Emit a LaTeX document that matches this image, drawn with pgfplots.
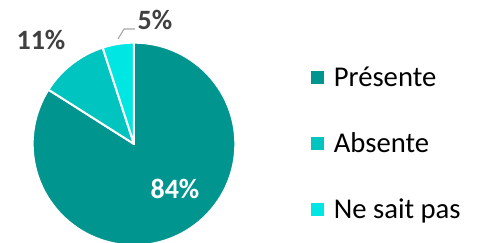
\documentclass[border=0pt]{standalone}
\usepackage{pgfplots}
\usepackage{pgfplotstable}
\pgfplotsset{compat=1.18}
\usepackage{fontspec}
\setmainfont{Carlito}
\definecolor{cA}{HTML}{00968F}
\definecolor{cB}{HTML}{00C4BF}
\definecolor{cC}{HTML}{00E6E2}
\definecolor{lbl}{HTML}{404040}
\pgfplotstableread[col sep=comma]{
label,value
Présente,84
Absente,11
Ne sait pas,5
}\piedata
\pgfplotstablegetelem{0}{value}\of\piedata\let\va\pgfplotsretval
\pgfplotstablegetelem{1}{value}\of\piedata\let\vb\pgfplotsretval
\pgfplotstablegetelem{2}{value}\of\piedata\let\vc\pgfplotsretval
\pgfmathsetmacro\aA{90-3.6*\va}
\pgfmathsetmacro\aB{\aA-3.6*\vb}
\pgfmathsetmacro\aC{\aB-3.6*\vc}
\def\R{76pt}
\begin{document}%
\begin{tikzpicture}
\begin{axis}[at={(0,0)},anchor=south west,scale only axis,
  width=360pt,height=182.25pt,xmin=0,xmax=480,ymin=0,ymax=243,
  hide axis,
  legend style={at={(axis cs:307,99.5)},anchor=west,draw=none,fill=none,
    font=\fontsize{21.5}{25}\selectfont,row sep=27.9pt,
    nodes={inner xsep=3pt,inner ysep=0pt,text height=17.6pt,text depth=4pt},
    cells={anchor=west}},
  legend cell align=left]
\addlegendimage{legend image code/.code={\fill[cA] (0pt,-4.5pt) rectangle (9pt,4.5pt);}}
\addlegendentry{\hspace{4.5pt}Présente}
\addlegendimage{legend image code/.code={\fill[cB] (0pt,-4.5pt) rectangle (9pt,4.5pt);}}
\addlegendentry{\hspace{4.5pt}Absente}
\addlegendimage{legend image code/.code={\fill[cC] (0pt,-4.5pt) rectangle (9pt,4.5pt);}}
\addlegendentry{\hspace{4.5pt}Ne sait pas}
\filldraw[cA,draw=white,line width=1.5pt,line join=round] (axis cs:134,99) -- ++(90:\R) arc[start angle=90,end angle=\aA,radius=\R] -- cycle;
\filldraw[cB,draw=white,line width=1.5pt,line join=round] (axis cs:134,99) -- ++(\aA:\R) arc[start angle=\aA,end angle=\aB,radius=\R] -- cycle;
\filldraw[cC,draw=white,line width=1.5pt,line join=round] (axis cs:134,99) -- ++(\aB:\R) arc[start angle=\aB,end angle=\aC,radius=\R] -- cycle;
\draw[gray!70,line width=0.8pt] (axis cs:118,204) -- (axis cs:124,214) -- (axis cs:135,214);
\node[text=white,font=\fontsize{21}{24}\selectfont\bfseries] at (axis cs:175,54) {\va\%};
\node[text=lbl,font=\fontsize{21}{24}\selectfont\bfseries] at (axis cs:41,203) {\vb\%};
\node[text=lbl,font=\fontsize{21}{24}\selectfont\bfseries] at (axis cs:155,223) {\vc\%};
\end{axis}
\pgfresetboundingbox
\useasboundingbox (current axis.south west) rectangle (current axis.north east);
\end{tikzpicture}%
\end{document}
